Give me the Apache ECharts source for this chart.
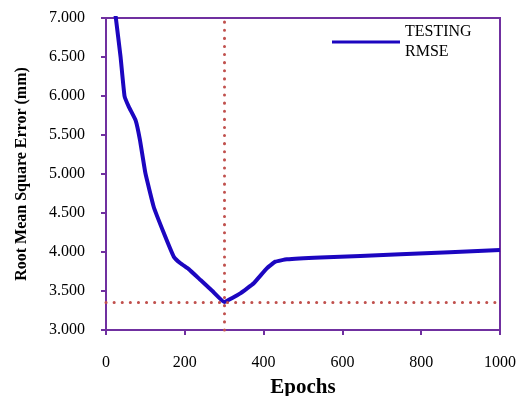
<!DOCTYPE html>
<html>
<head>
  <meta charset="utf-8">
  <title>Testing RMSE</title>
  <style>
    html, body { margin: 0; padding: 0; background: #fff; }
    #chart { width: 518px; height: 396px; }
  </style>
  <script src="https://cdn.jsdelivr.net/npm/echarts@6/dist/echarts.min.js"></script>
</head>
<body>
  <div id="chart"></div>
  <script>
    // values
    const epochs = [20, 25, 37, 47, 58, 75, 86, 100, 121, 147, 172, 189, 210, 240, 270, 300, 341, 375, 408, 430, 459, 544, 747, 1000];
    const rmse = [7.2, 7.0, 6.5, 6.0, 5.86, 5.69, 5.44, 5.01, 4.58, 4.24, 3.94, 3.855, 3.78, 3.64, 3.5, 3.36, 3.47, 3.6, 3.79, 3.876, 3.906, 3.93, 3.97, 4.025];
    const bestEpoch = 300;
    const bestRmse = 3.36;

    const purple = '#7030a0';
    const serif = '"Liberation Serif", "DejaVu Serif", serif';

    const chart = echarts.init(document.getElementById('chart'));
    chart.setOption({
      animation: false,
      textStyle: { fontFamily: serif },
      grid: {
        left: 106, top: 18, right: 18, bottom: 66,
        outerBoundsMode: 'none', containLabel: false,
        show: true, borderColor: purple, borderWidth: 2
      },
      legend: {
        left: 332, top: 12, padding: 0,
        itemWidth: 68, itemHeight: 3, itemGap: 0,
        icon: 'rect',
        formatter: () => 'TESTING\nRMSE',
        textStyle: { fontFamily: serif, fontSize: 16, color: '#000', lineHeight: 20, padding: [20, 0, 0, 0] },
        data: ['TESTING RMSE']
      },
      xAxis: {
        type: 'value', min: 0, max: 1000, interval: 200,
        name: 'Epochs', nameLocation: 'middle', nameGap: 47,
        nameTextStyle: { fontFamily: serif, fontSize: 21, fontWeight: 'bold', color: '#000' },
        axisLine: { show: true, lineStyle: { color: purple, width: 2 } },
        axisTick: { show: true, length: 5, lineStyle: { color: purple, width: 2 } },
        axisLabel: { margin: 25, fontFamily: serif, fontSize: 16, color: '#000', formatter: v => String(v) },
        splitLine: { show: false }
      },
      yAxis: {
        type: 'value', min: 3, max: 7, interval: 0.5,
        name: 'Root Mean Square Error (mm)', nameLocation: 'middle', nameGap: 76,
        nameTextStyle: { fontFamily: serif, fontSize: 16, fontWeight: 'bold', color: '#000' },
        axisLine: { show: true, lineStyle: { color: purple, width: 2 } },
        axisTick: { show: true, length: 5, lineStyle: { color: purple, width: 2 } },
        axisLabel: { margin: 21, fontFamily: serif, fontSize: 16, color: '#000', formatter: v => v.toFixed(3) },
        splitLine: { show: false }
      },
      series: [{
        name: 'TESTING RMSE',
        type: 'line',
        data: epochs.map((e, i) => [e, rmse[i]]),
        symbol: 'none',
        smooth: 0.1,
        clip: true,
        lineStyle: { color: '#1c06c0', width: 4, join: 'round' },
        itemStyle: { color: '#1c06c0' },
        markLine: {
          silent: true,
          symbol: 'none',
          label: { show: false },
          lineStyle: { color: '#c0504d', width: 3, type: [0.1, 8], cap: 'round' },
          data: [{ xAxis: bestEpoch }, { yAxis: bestRmse }]
        }
      }]
    });
  </script>
</body>
</html>
